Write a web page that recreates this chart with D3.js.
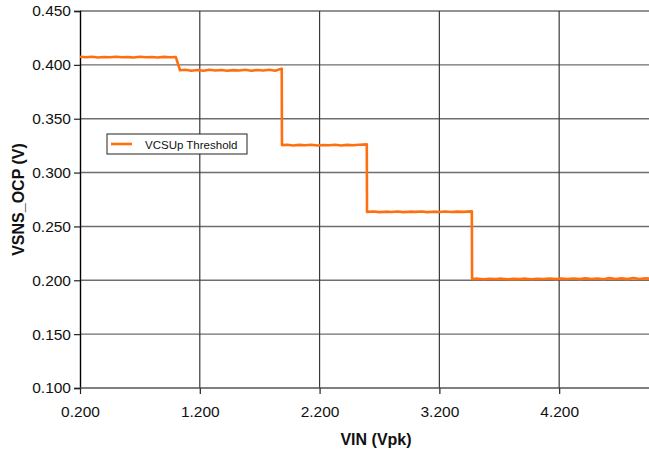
<!DOCTYPE html>
<html>
<head>
<meta charset="utf-8">
<script src="https://cdn.jsdelivr.net/npm/d3@7"></script>
<style>
  html, body { margin: 0; padding: 0; background: #fff; }
  svg { display: block; font-family: "Liberation Sans", Arial, sans-serif; }
</style>
</head>
<body>
<svg id="chart" width="649" height="452"></svg>
<script>
// Input voltage sweep (Vpk) and measured over-current threshold (V)
const vin = [
  0.20, 0.25, 0.30, 0.35, 0.40, 0.45, 0.50, 0.55, 0.60, 0.65, 0.70, 0.75, 0.80, 0.85, 0.90, 0.95, 1.00,
  1.035, 1.08, 1.13, 1.18, 1.23, 1.28, 1.33, 1.38, 1.43, 1.48, 1.53, 1.58, 1.63, 1.68, 1.73, 1.78, 1.83, 1.884,
  1.886, 1.93, 1.98, 2.03, 2.08, 2.13, 2.18, 2.23, 2.28, 2.33, 2.38, 2.43, 2.48, 2.53, 2.594,
  2.596, 2.65, 2.70, 2.75, 2.80, 2.85, 2.90, 2.95, 3.00, 3.05, 3.10, 3.15, 3.20, 3.25, 3.30, 3.35, 3.40, 3.471,
  3.473, 3.52, 3.57, 3.62, 3.67, 3.72, 3.77, 3.82, 3.87, 3.92, 3.97, 4.02, 4.07, 4.12, 4.17, 4.22, 4.27,
  4.32, 4.37, 4.42, 4.47, 4.52, 4.57, 4.62, 4.67, 4.72, 4.77, 4.82, 4.87, 4.92, 4.97, 5.00
];
const vsns = [
  0.4075, 0.4070, 0.4075, 0.4068, 0.4073, 0.4070, 0.4076, 0.4070, 0.4072, 0.4068, 0.4075, 0.4070, 0.4073, 0.4069, 0.4074, 0.4070, 0.4072,
  0.3950, 0.3955, 0.3945, 0.3952, 0.3946, 0.3955, 0.3948, 0.3953, 0.3945, 0.3951, 0.3947, 0.3954, 0.3946, 0.3952, 0.3948, 0.3955, 0.3945, 0.3965,
  0.3255, 0.3258, 0.3252, 0.3257, 0.3253, 0.3258, 0.3252, 0.3256, 0.3254, 0.3259, 0.3252, 0.3257, 0.3253, 0.3258, 0.3262,
  0.2635, 0.2638, 0.2633, 0.2637, 0.2634, 0.2639, 0.2633, 0.2637, 0.2635, 0.2638, 0.2633, 0.2637, 0.2634, 0.2638, 0.2634, 0.2637, 0.2635, 0.2640,
  0.2012, 0.2015, 0.2010, 0.2014, 0.2011, 0.2015, 0.2010, 0.2013, 0.2011, 0.2015, 0.2010, 0.2014, 0.2012, 0.2016, 0.2011, 0.2015, 0.2012,
  0.2016, 0.2011, 0.2018, 0.2012, 0.2017, 0.2010, 0.2020, 0.2012, 0.2018, 0.2011, 0.2021, 0.2012, 0.2019, 0.2013, 0.2017
];
const xTicks = [0.2, 1.2, 2.2, 3.2, 4.2];
const yTicks = [0.10, 0.15, 0.20, 0.25, 0.30, 0.35, 0.40, 0.45];
const seriesName = "VCSUp Threshold";
const xTitle = "VIN (Vpk)";
const yTitle = "VSNS_OCP (V)";

const svg = d3.select("#chart");
const margin = { left: 80, top: 11, bottom: 388 };
const x = d3.scaleLinear().domain([0.2, 5.0]).range([margin.left, 655]);
const y = d3.scaleLinear().domain([0.10, 0.45]).range([margin.bottom, margin.top]);
const fmt = d3.format(".3f");
const orange = "#ff6f0f";

// horizontal grid
svg.append("g").selectAll("line").data(yTicks.slice(1)).join("line")
  .attr("x1", x(0.2)).attr("x2", 649)
  .attr("y1", d => y(d)).attr("y2", d => y(d))
  .attr("stroke", "#6e6e6e").attr("stroke-width", 1.4);

// vertical grid
svg.append("g").selectAll("line").data(xTicks.slice(1)).join("line")
  .attr("x1", d => x(d)).attr("x2", d => x(d))
  .attr("y1", y(0.45)).attr("y2", y(0.10))
  .attr("stroke", "#3a3a3a").attr("stroke-width", 1.2);

// axes
const yAxis = svg.append("g").attr("transform", `translate(${x(0.2)},0)`)
  .call(d3.axisLeft(y).tickValues(yTicks).tickFormat(fmt).tickSize(6).tickPadding(3));
const xAxis = svg.append("g").attr("transform", `translate(0,${y(0.10)})`)
  .call(d3.axisBottom(x).tickValues(xTicks).tickFormat(fmt).tickSize(6).tickPadding(12));
yAxis.select(".domain").attr("stroke", "#000").attr("stroke-width", 1.4);
xAxis.select(".domain").attr("stroke", "#555").attr("stroke-width", 1.6);
[yAxis, xAxis].forEach(a => {
  a.selectAll(".tick line").attr("stroke", "#222").attr("stroke-width", 1.2);
  a.selectAll(".tick text").attr("fill", "#111").style("font-size", "15.5px")
    .style("font-family", "'Liberation Sans', Arial, sans-serif");
});
xAxis.select(".domain").attr("d", `M${x(0.2)},0H649`);

// series
const pts = vin.map((v, i) => [v, vsns[i]]);
svg.append("path").datum(pts)
  .attr("fill", "none").attr("stroke", orange).attr("stroke-width", 2.6)
  .attr("stroke-linejoin", "round")
  .attr("d", d3.line().x(d => x(d[0])).y(d => y(d[1])));

// legend
const lg = svg.append("g").attr("transform", "translate(107,134)");
lg.append("rect").attr("width", 140).attr("height", 20)
  .attr("fill", "#fff").attr("stroke", "#222").attr("stroke-width", 1);
lg.append("line").attr("x1", 4).attr("x2", 25).attr("y1", 10).attr("y2", 10)
  .attr("stroke", orange).attr("stroke-width", 2.6);
lg.append("text").attr("x", 38).attr("y", 14.5).text(seriesName)
  .style("font-size", "11.5px").attr("fill", "#111");

// titles
svg.append("text").attr("x", 376).attr("y", 445).attr("text-anchor", "middle")
  .style("font-size", "16px").style("font-weight", "bold").attr("fill", "#111").text(xTitle);
svg.append("text").attr("transform", `translate(24,${(y(0.45) + y(0.10)) / 2}) rotate(-90)`)
  .attr("text-anchor", "middle")
  .style("font-size", "16px").style("font-weight", "bold").attr("fill", "#111").text(yTitle);
</script>
</body>
</html>
